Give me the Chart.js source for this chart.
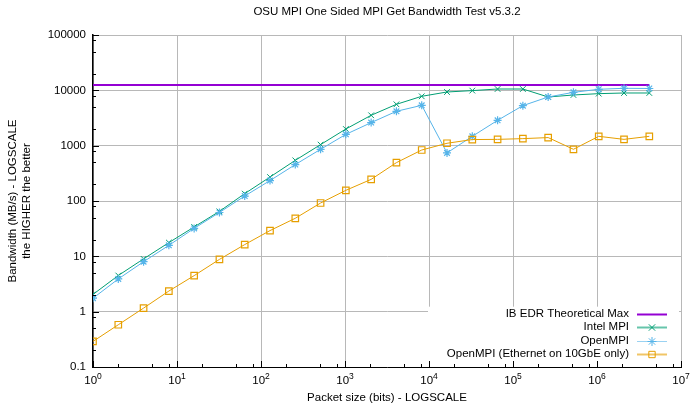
<!DOCTYPE html>
<html>
<head>
<meta charset="utf-8">
<script src="https://cdn.jsdelivr.net/npm/chart.js@4/dist/chart.umd.min.js"></script>
<style>
  html, body { margin: 0; padding: 0; background: #fff; }
  #wrap { width: 690px; height: 404px; }
</style>
</head>
<body>
<div id="wrap"><canvas id="bwChart" width="690" height="404"></canvas></div>
<script>
// packet sizes, 2^0 .. 2^22
const packetSizes = [1, 2, 4, 8, 16, 32, 64, 128, 256, 512, 1024, 2048, 4096, 8192,
    16384, 32768, 65536, 131072, 262144, 524288, 1048576, 2097152, 4194304];

// bandwidth in MB/s
const intelMpi = [2.05, 4.5, 9.0, 17.7, 34, 65, 136, 271, 543, 1045, 2000, 3540, 5590, 7800,
    9330, 9890, 10570, 10570, 7580, 8240, 8710, 8950, 8950];
const openMpi = [1.75, 3.9, 8.0, 15.8, 32, 62, 123, 234, 455, 860, 1600, 2610, 4180, 5360,
    740, 1475, 2870, 5290, 7580, 9200, 10450, 10880, 10800];
const openMpiEthernet = [0.29, 0.58, 1.16, 2.36, 4.48, 8.8, 16.3, 29.2, 48.7, 92, 156, 246, 494, 835,
    1105, 1290, 1300, 1340, 1400, 860, 1475, 1300, 1475];
const ibEdrMax = 12500;

const seriesLabels = ['IB EDR Theoretical Max', 'Intel MPI', 'OpenMPI', 'OpenMPI (Ethernet on 10GbE only)'];
const xTickExponents = [0, 1, 2, 3, 4, 5, 6, 7];
const yTickLabels = ['0.1', '1', '10', '100', '1000', '10000', '100000'];
const minorSteps = [2, 5, 8];

const titleText = 'OSU MPI One Sided MPI Get Bandwidth Test v5.3.2';
const xTitle = 'Packet size (bits) - LOGSCALE';
const yTitle = ['Bandwidth (MB/s) - LOGSCALE', 'the HIGHER the better'];

const FONT = '"Liberation Sans", Arial, sans-serif';
const colors = ['#9400d3', '#009e73', '#56b4e9', '#e69f00'];
const styles = [false, 'crossRot', 'star', 'rect'];

function toPoints(values) {
    return packetSizes.map((x, i) => ({ x: x, y: values[i] }));
}

// everything gnuplot-ish that Chart.js won't draw by itself
const decorations = {
    id: 'decorations',
    beforeDatasetsDraw(chart) {
        const ctx = chart.ctx;
        const xs = chart.scales.x, ys = chart.scales.y;
        // opaque key box
        ctx.save();
        ctx.fillStyle = '#fff';
        ctx.fillRect(xs.getPixelForValue(10000) - 1, ys.getPixelForValue(1) - 5, 251, 56);
        ctx.restore();
    },
    afterDraw(chart) {
        const ctx = chart.ctx;
        const xs = chart.scales.x, ys = chart.scales.y;
        const area = chart.chartArea;
        ctx.save();

        // ticks on left and bottom axes, pointing inwards
        ctx.strokeStyle = '#000';
        ctx.lineWidth = 1;
        ctx.beginPath();
        for (let e = -1; e <= 5; e++) {
            const py = Math.round(ys.getPixelForValue(Math.pow(10, e))) + 0.5;
            ctx.moveTo(area.left, py); ctx.lineTo(area.left + 6, py);
            if (e < 5) {
                minorSteps.forEach(m => {
                    const my = Math.round(ys.getPixelForValue(m * Math.pow(10, e))) + 0.5;
                    ctx.moveTo(area.left, my); ctx.lineTo(area.left + 3, my);
                });
            }
        }
        xTickExponents.forEach(e => {
            const px = Math.round(xs.getPixelForValue(Math.pow(10, e))) + 0.5;
            ctx.moveTo(px, area.bottom); ctx.lineTo(px, area.bottom - 6);
            if (e < 7) {
                minorSteps.forEach(m => {
                    const mx = Math.round(xs.getPixelForValue(m * Math.pow(10, e))) + 0.5;
                    ctx.moveTo(mx, area.bottom); ctx.lineTo(mx, area.bottom - 3);
                });
            }
        });
        ctx.stroke();

        ctx.fillStyle = '#000';
        // y tick labels
        ctx.font = '11.5px ' + FONT;
        ctx.textAlign = 'right';
        ctx.textBaseline = 'middle';
        yTickLabels.forEach(t => {
            ctx.fillText(t, area.left - 7, ys.getPixelForValue(parseFloat(t)));
        });

        // x tick labels: 10 with superscript exponent
        ctx.textBaseline = 'alphabetic';
        ctx.textAlign = 'left';
        xTickExponents.forEach(e => {
            const px = xs.getPixelForValue(Math.pow(10, e));
            ctx.font = '11.5px ' + FONT;
            const w1 = ctx.measureText('10').width;
            ctx.font = '8.5px ' + FONT;
            const w2 = ctx.measureText(String(e)).width;
            const x0 = px - (w1 + w2) / 2;
            ctx.font = '11.5px ' + FONT;
            ctx.fillText('10', x0, 384);
            ctx.font = '8.5px ' + FONT;
            ctx.fillText(String(e), x0 + w1, 379);
        });

        // titles
        ctx.font = '11.5px ' + FONT;
        ctx.textAlign = 'center';
        ctx.textBaseline = 'middle';
        const cx = (area.left + area.right) / 2;
        ctx.fillText(titleText, cx, 12);
        ctx.fillText(xTitle, cx, 398);
        ctx.save();
        ctx.translate(0, (area.top + area.bottom) / 2);
        ctx.rotate(-Math.PI / 2);
        ctx.fillText(yTitle[0], 0, 13);
        ctx.fillText(yTitle[1], 0, 26.5);
        ctx.restore();

        // key
        const keyRight = 629, sx0 = 637, sx1 = 667;
        ctx.textAlign = 'right';
        seriesLabels.forEach((label, i) => {
            const ly = 313.5 + i * 13.6;
            ctx.fillStyle = '#000';
            ctx.fillText(label, keyRight, ly);
            ctx.strokeStyle = colors[i];
            ctx.lineWidth = i === 2 ? 1 : 2;
            ctx.globalAlpha = i === 0 ? 1 : 0.6;
            ctx.beginPath();
            ctx.moveTo(sx0, Math.round(ly) + 0.5);
            ctx.lineTo(sx1, Math.round(ly) + 0.5);
            ctx.stroke();
            ctx.globalAlpha = 1;
            if (styles[i]) {
                ctx.fillStyle = 'rgba(0,0,0,0)';
                ctx.lineWidth = 1;
                Chart.helpers.drawPoint(ctx, { pointStyle: styles[i], radius: 4.5, rotation: 0, borderWidth: 1 },
                    (sx0 + sx1) / 2, Math.round(ly) + 0.5);
            }
        });
        ctx.restore();
    }
};

const ctx = document.getElementById('bwChart').getContext('2d');
new Chart(ctx, {
    type: 'line',
    data: {
        datasets: [{
            label: seriesLabels[0],
            data: [{ x: packetSizes[0], y: ibEdrMax }, { x: packetSizes[packetSizes.length - 1], y: ibEdrMax }],
            borderColor: colors[0],
            borderWidth: 2,
            pointRadius: 0,
            order: 4
        }, {
            label: seriesLabels[1],
            data: toPoints(intelMpi),
            borderColor: colors[1],
            borderWidth: 1,
            pointStyle: styles[1],
            pointRadius: 4,
            pointBorderWidth: 1,
            pointBorderColor: colors[1],
            order: 3
        }, {
            label: seriesLabels[2],
            data: toPoints(openMpi),
            borderColor: colors[2],
            borderWidth: 1,
            pointStyle: styles[2],
            pointRadius: 4,
            pointBorderWidth: 1.2,
            pointBorderColor: colors[2],
            order: 2
        }, {
            label: seriesLabels[3],
            data: toPoints(openMpiEthernet),
            borderColor: colors[3],
            borderWidth: 1,
            pointStyle: styles[3],
            pointRadius: 4.6,
            pointBorderWidth: 1.2,
            pointBorderColor: colors[3],
            pointBackgroundColor: 'rgba(0,0,0,0)',
            order: 1
        }]
    },
    options: {
        responsive: false,
        animation: false,
        events: [],
        layout: { padding: { top: 35, right: 9, left: 0, bottom: 0 } },
        elements: { line: { tension: 0, fill: false } },
        plugins: {
            legend: { display: false },
            title: { display: false },
            tooltip: { enabled: false }
        },
        scales: {
            x: {
                type: 'logarithmic',
                min: 1,
                max: 1e7,
                afterBuildTicks: scale => {
                    scale.ticks = xTickExponents.map(e => ({ value: Math.pow(10, e) }));
                },
                afterFit: scale => { scale.height = 37; },
                ticks: { display: false },
                grid: { color: '#b8b8b8', lineWidth: 1, tickLength: 0, drawTicks: false },
                border: { color: '#000', width: 1 }
            },
            y: {
                type: 'logarithmic',
                min: 0.1,
                max: 100000,
                afterBuildTicks: scale => {
                    scale.ticks = yTickLabels.map(t => ({ value: parseFloat(t) }));
                },
                afterFit: scale => { scale.width = 93; },
                ticks: { display: false },
                grid: { color: '#b8b8b8', lineWidth: 1, tickLength: 0, drawTicks: false },
                border: { color: '#000', width: 1.5 }
            }
        }
    },
    plugins: [decorations]
});
</script>
</body>
</html>
